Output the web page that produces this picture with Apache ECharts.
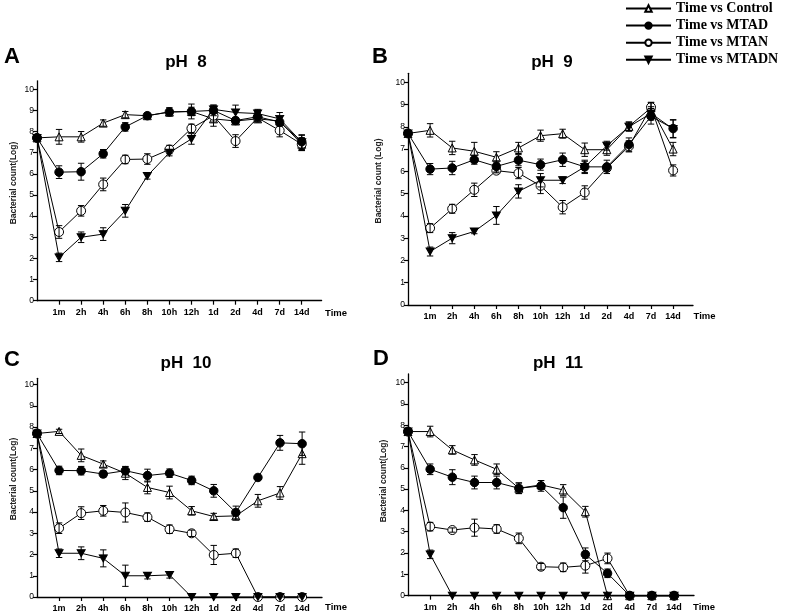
<!DOCTYPE html>
<html>
<head>
<meta charset="utf-8">
<script src="https://cdn.jsdelivr.net/npm/echarts@6/dist/echarts.min.js"></script>
<style>
html,body{margin:0;padding:0;background:#fff;}
#chart{width:787px;height:615px;}
</style>
</head>
<body>
<div id="chart"></div>
<script>
// ---- data ----
const timeLabels = ['', '1m', '2h', '4h', '6h', '8h', '10h', '12h', '1d', '2d', '4d', '7d', '14d'];
const seriesNames = ['Time vs Control', 'Time vs MTAD', 'Time vs MTAN', 'Time vs MTADN'];
const panelTitles = ['pH  8', 'pH  9', 'pH  10', 'pH  11'];
const panelLetters = ['A', 'B', 'C', 'D'];
const yTicks = [0, 1, 2, 3, 4, 5, 6, 7, 8, 9, 10];

// pH 8
const ph8Control = [7.7, 7.75, 7.75, 8.4, 8.8, 8.75, 8.92, 8.95, 8.6, 8.5, 8.6, 8.5, 7.4];
const ph8Mtad    = [7.7, 6.08, 6.1, 6.95, 8.22, 8.75, 8.93, 8.95, 9.0, 8.52, 8.7, 8.45, 7.52];
const ph8Mtan    = [7.7, 3.25, 4.25, 5.5, 6.68, 6.7, 7.15, 8.15, 8.75, 7.55, 8.65, 8.05, 7.4];
const ph8Mtadn   = [7.7, 2.05, 3.0, 3.15, 4.25, 5.9, 7.0, 7.65, 9.05, 8.9, 8.85, 8.6, 7.5];
const ph8ControlErr = [0, 0.35, 0.25, 0.15, 0.15, 0.12, 0.15, 0.2, 0.35, 0.15, 0.15, 0.2, 0.3];
const ph8MtadErr    = [0, 0.3, 0.4, 0.2, 0.2, 0.12, 0.2, 0.35, 0.25, 0.15, 0.2, 0.2, 0.3];
const ph8MtanErr    = [0, 0.3, 0.25, 0.3, 0.2, 0.25, 0.2, 0.2, 0.3, 0.3, 0.15, 0.3, 0.3];
const ph8MtadnErr   = [0, 0.2, 0.25, 0.3, 0.3, 0.15, 0.15, 0.25, 0.2, 0.35, 0.2, 0.3, 0.35];

// pH 9
const ph9Control = [7.7, 7.84, 7.05, 6.9, 6.63, 7.05, 7.6, 7.69, 6.97, 6.97, 8.02, 8.85, 7.0];
const ph9Mtad    = [7.7, 6.1, 6.15, 6.52, 6.22, 6.5, 6.3, 6.52, 6.2, 6.2, 7.2, 8.47, 7.92];
const ph9Mtan    = [7.7, 3.45, 4.32, 5.17, 6.03, 5.92, 5.35, 4.39, 5.05, 6.15, 7.12, 8.88, 6.04];
const ph9Mtadn   = [7.7, 2.4, 3.0, 3.3, 4.02, 5.1, 5.6, 5.6, 6.2, 7.15, 8.0, 8.6, 7.9];
const ph9ControlErr = [0, 0.3, 0.3, 0.4, 0.25, 0.25, 0.25, 0.2, 0.3, 0.25, 0.2, 0.25, 0.3];
const ph9MtadErr    = [0, 0.25, 0.3, 0.2, 0.25, 0.25, 0.25, 0.3, 0.3, 0.3, 0.3, 0.35, 0.4];
const ph9MtanErr    = [0, 0.2, 0.2, 0.3, 0.1, 0.25, 0.35, 0.3, 0.3, 0.15, 0.25, 0.2, 0.25];
const ph9MtadnErr   = [0, 0.2, 0.25, 0.1, 0.4, 0.3, 0.3, 0.15, 0.25, 0.2, 0.2, 0.3, 0.4];

// pH 10
const ph10Control = [7.7, 7.8, 6.67, 6.26, 5.83, 5.16, 4.92, 4.06, 3.79, 3.82, 4.53, 4.9, 6.75];
const ph10Mtad    = [7.7, 5.96, 5.95, 5.79, 5.95, 5.72, 5.83, 5.49, 5.0, 3.98, 5.63, 7.26, 7.22];
const ph10Mtan    = [7.7, 3.24, 3.95, 4.06, 3.98, 3.76, 3.19, 3.0, 1.98, 2.06, 0, 0, 0];
const ph10Mtadn   = [7.7, 2.06, 2.06, 1.82, 1.0, 1.0, 1.04, 0, 0, 0, 0, 0, 0];
const ph10ControlErr = [0, 0.1, 0.3, 0.15, 0.3, 0.3, 0.3, 0.2, 0.15, 0.2, 0.3, 0.3, 0.5];
const ph10MtadErr    = [0, 0.2, 0.2, 0.15, 0.2, 0.3, 0.2, 0.2, 0.3, 0.3, 0.1, 0.35, 0.55];
const ph10MtanErr    = [0, 0.25, 0.3, 0.25, 0.45, 0.2, 0.2, 0.15, 0.45, 0.2, 0, 0, 0];
const ph10MtadnErr   = [0, 0.2, 0.3, 0.4, 0.5, 0.15, 0.15, 0, 0, 0, 0, 0, 0];

// pH 11
const ph11Control = [7.7, 7.7, 6.84, 6.37, 5.93, 5.04, 5.2, 4.96, 3.94, 0, 0, 0, 0];
const ph11Mtad    = [7.7, 5.93, 5.56, 5.31, 5.31, 5.04, 5.15, 4.13, 1.94, 1.05, 0, 0, 0];
const ph11Mtan    = [7.7, 3.24, 3.08, 3.19, 3.13, 2.69, 1.36, 1.33, 1.41, 1.75, 0, 0, 0];
const ph11Mtadn   = [7.7, 1.94, 0, 0, 0, 0, 0, 0, 0, 0, 0, 0, 0];
const ph11ControlErr = [0, 0.25, 0.2, 0.25, 0.25, 0.25, 0.2, 0.25, 0.25, 0, 0, 0, 0];
const ph11MtadErr    = [0, 0.25, 0.35, 0.3, 0.3, 0.25, 0.25, 0.5, 0.3, 0.2, 0, 0, 0];
const ph11MtanErr    = [0, 0.2, 0.1, 0.4, 0.2, 0.25, 0.15, 0.2, 0.35, 0.25, 0, 0, 0];
const ph11MtadnErr   = [0, 0.2, 0, 0, 0, 0, 0, 0, 0, 0, 0, 0, 0];

const panels = [
  { vals: [ph8Control, ph8Mtad, ph8Mtan, ph8Mtadn], errs: [ph8ControlErr, ph8MtadErr, ph8MtanErr, ph8MtadnErr] },
  { vals: [ph9Control, ph9Mtad, ph9Mtan, ph9Mtadn], errs: [ph9ControlErr, ph9MtadErr, ph9MtanErr, ph9MtadnErr] },
  { vals: [ph10Control, ph10Mtad, ph10Mtan, ph10Mtadn], errs: [ph10ControlErr, ph10MtadErr, ph10MtanErr, ph10MtadnErr] },
  { vals: [ph11Control, ph11Mtad, ph11Mtan, ph11Mtadn], errs: [ph11ControlErr, ph11MtadErr, ph11MtanErr, ph11MtadnErr] }
];

// ---- layout / style ----
const grids = [
  { left: 37, top: 80.8, width: 284.6, height: 219.9, yMax: 10.4 },
  { left: 408, top: 73.3, width: 285, height: 231.7, yMax: 10.4 },
  { left: 37, top: 378.3, width: 285, height: 218.7, yMax: 10.3 },
  { left: 408, top: 374, width: 286, height: 221.7, yMax: 10.4 }
];
const SANS = 'Liberation Sans, Arial, sans-serif';
const downTri = 'path://M0,0 L10,0 L5,9 Z';
const markerStyles = [
  { symbol: 'triangle', symbolSize: 8, fill: '#fff', z: 3 },
  { symbol: 'circle', symbolSize: 8.5, fill: '#000', z: 3.6 },
  { symbol: 'circle', symbolSize: 9, fill: '#fff', z: 3.2 },
  { symbol: downTri, symbolSize: [8, 7], fill: '#000', z: 3.4 }
];

const chart = echarts.init(document.getElementById('chart'), null, { renderer: 'canvas' });

const xIdx = timeLabels.map((_, i) => i);
const xTickVals = xIdx.slice(1);

const gridOpt = [], xAxisOpt = [], yAxisOpt = [], seriesOpt = [], graphicOpt = [];

grids.forEach((g, p) => {
  gridOpt.push({ left: g.left, top: g.top, width: g.width, height: g.height, containLabel: false });
  xAxisOpt.push({
    type: 'value', gridIndex: p, min: 0, max: 12.9,
    axisLine: { show: true, lineStyle: { color: '#000', width: 1.3 } },
    axisTick: { show: true, length: 4, customValues: xTickVals, lineStyle: { color: '#000', width: 1.2 } },
    axisLabel: {
      show: true, customValues: xTickVals, margin: 7,
      formatter: v => timeLabels[Math.round(v)] || '',
      color: '#000', fontFamily: SANS, fontWeight: 'bold', fontSize: 9
    },
    splitLine: { show: false }
  });
  yAxisOpt.push({
    type: 'value', gridIndex: p, min: 0, max: g.yMax,
    axisLine: { show: true, lineStyle: { color: '#000', width: 1.3 } },
    axisTick: { show: true, length: 4, customValues: yTicks, lineStyle: { color: '#000', width: 1.2 } },
    axisLabel: { show: true, customValues: yTicks, margin: 3, color: '#000', fontFamily: SANS, fontSize: 8.5 },
    splitLine: { show: false }
  });

  const pan = panels[p];
  pan.vals.forEach((vals, s) => {
    const m = markerStyles[s];
    seriesOpt.push({
      name: seriesNames[s], type: 'line', xAxisIndex: p, yAxisIndex: p,
      data: xIdx.map((x, i) => [x, vals[i]]),
      symbol: m.symbol, symbolSize: m.symbolSize, showAllSymbol: true,
      lineStyle: { color: '#000', width: 1 },
      itemStyle: { color: m.fill, borderColor: '#000', borderWidth: 1 },
      emphasis: { disabled: true }, z: m.z, clip: false
    });
  });
  pan.vals.forEach((vals, s) => {
    const errs = pan.errs[s];
    const data = [];
    xIdx.forEach((x, i) => { if (errs[i] > 0) data.push([x, vals[i] - errs[i], vals[i] + errs[i]]); });
    seriesOpt.push({
      type: 'custom', xAxisIndex: p, yAxisIndex: p, z: 4, silent: true,
      data: data,
      renderItem: function (params, api) {
        const x = api.value(0);
        const lo = api.coord([x, api.value(1)]);
        const hi = api.coord([x, api.value(2)]);
        const w = 3.2;
        const st = { stroke: '#000', lineWidth: 1 };
        return {
          type: 'group',
          children: [
            { type: 'line', shape: { x1: lo[0], y1: lo[1], x2: hi[0], y2: hi[1] }, style: st },
            { type: 'line', shape: { x1: lo[0] - w, y1: lo[1], x2: lo[0] + w, y2: lo[1] }, style: st },
            { type: 'line', shape: { x1: hi[0] - w, y1: hi[1], x2: hi[0] + w, y2: hi[1] }, style: st }
          ]
        };
      }
    });
  });
});

// texts: letters, titles, "Time", y-axis names
const letterPos = [[4, 57], [372, 57], [4, 360], [373, 359]];
const titlePos = [[186, 62], [552, 62.5], [186, 363], [558, 363]];
const timePos = [[336, 313], [704.5, 316.7], [336, 607.7], [704, 607.7]];
const yNamePos = [[14, 183], [379, 181], [14, 479], [384, 481]];
const yNames = ['Bacterial count(Log)', 'Bacterial count (Log)', 'Bacterial count(Log)', 'Bacterial count(Log)'];
for (let p = 0; p < 4; p++) {
  graphicOpt.push({ type: 'text', x: letterPos[p][0], y: letterPos[p][1],
    style: { text: panelLetters[p], font: 'bold 22px ' + SANS, fill: '#000', textAlign: 'left', textVerticalAlign: 'middle' } });
  graphicOpt.push({ type: 'text', x: titlePos[p][0], y: titlePos[p][1],
    style: { text: panelTitles[p], font: 'bold 17px ' + SANS, fill: '#000', textAlign: 'center', textVerticalAlign: 'middle' } });
  graphicOpt.push({ type: 'text', x: timePos[p][0], y: timePos[p][1],
    style: { text: 'Time', font: 'bold 9.5px ' + SANS, fill: '#000', textAlign: 'center', textVerticalAlign: 'middle' } });
  graphicOpt.push({ type: 'text', x: yNamePos[p][0], y: yNamePos[p][1], rotation: Math.PI / 2,
    style: { text: yNames[p], font: 'bold 8.5px ' + SANS, fill: '#222', textAlign: 'center', textVerticalAlign: 'middle' } });
}

chart.setOption({
  animation: false,
  backgroundColor: '#fff',
  legend: {
    data: seriesNames, orient: 'vertical', left: 625, top: 1.5, padding: 0,
    itemWidth: 45, itemHeight: 8, itemGap: 3.1, selectedMode: false,
    textStyle: { fontFamily: 'Liberation Serif, Times New Roman, serif', fontWeight: 'bold', fontSize: 14, color: '#000', lineHeight: 13 }
  },
  grid: gridOpt,
  xAxis: xAxisOpt,
  yAxis: yAxisOpt,
  series: seriesOpt,
  graphic: graphicOpt
});
</script>
</body>
</html>
